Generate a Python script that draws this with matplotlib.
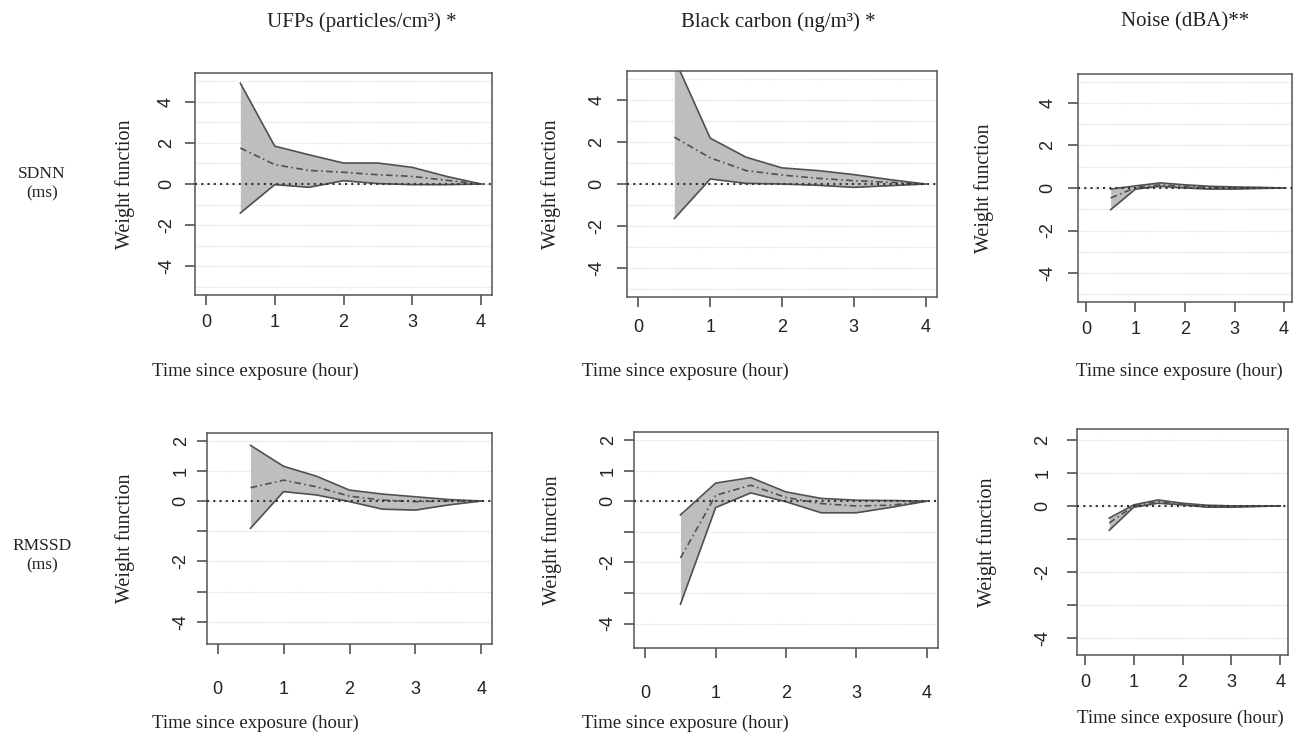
import matplotlib
matplotlib.use('Agg')
import matplotlib.pyplot as plt
import numpy as np

# lag times (hours)
lags = [0.5, 1.0, 1.5, 2.0, 2.5, 3.0, 3.5, 4.0]

# SDNN row
ufp_sdnn_mean = [1.75, 0.94, 0.66, 0.57, 0.45, 0.37, 0.18, 0.0]
ufp_sdnn_low = [-1.41, -0.03, -0.16, 0.16, 0.02, -0.03, -0.03, 0.0]
ufp_sdnn_up = [4.9, 1.84, 1.42, 1.02, 1.02, 0.81, 0.37, 0.0]

bc_sdnn_mean = [2.24, 1.25, 0.64, 0.43, 0.27, 0.16, 0.08, 0.0]
bc_sdnn_low = [-1.65, 0.24, 0.03, 0.0, -0.06, -0.16, -0.08, 0.0]
bc_sdnn_up = [6.0, 2.19, 1.28, 0.77, 0.64, 0.45, 0.21, 0.0]

noise_sdnn_mean = [-0.47, 0.02, 0.15, 0.08, 0.03, 0.0, 0.0, 0.0]
noise_sdnn_low = [-1.02, -0.05, 0.08, 0.0, -0.05, -0.05, -0.02, 0.0]
noise_sdnn_up = [-0.05, 0.1, 0.24, 0.15, 0.08, 0.05, 0.03, 0.0]

# RMSSD row
ufp_rmssd_mean = [0.44, 0.69, 0.47, 0.16, 0.03, -0.02, 0.0, 0.0]
ufp_rmssd_low = [-0.9, 0.31, 0.2, -0.02, -0.27, -0.3, -0.13, 0.0]
ufp_rmssd_up = [1.84, 1.15, 0.82, 0.36, 0.23, 0.14, 0.05, 0.0]

bc_rmssd_mean = [-1.86, 0.19, 0.52, 0.12, -0.08, -0.16, -0.13, 0.0]
bc_rmssd_low = [-3.37, -0.21, 0.27, -0.02, -0.38, -0.38, -0.2, 0.0]
bc_rmssd_up = [-0.45, 0.59, 0.77, 0.3, 0.09, 0.03, 0.02, 0.0]

noise_rmssd_mean = [-0.52, 0.0, 0.13, 0.06, -0.01, -0.02, -0.01, 0.0]
noise_rmssd_low = [-0.74, -0.04, 0.08, 0.03, -0.04, -0.04, -0.02, 0.0]
noise_rmssd_up = [-0.37, 0.03, 0.18, 0.08, 0.02, 0.0, 0.0, 0.0]

col_titles = ['UFPs (particles/cm³) *', 'Black carbon (ng/m³) *', 'Noise (dBA)**']
row_titles = ['SDNN\n(ms)', 'RMSSD\n(ms)']

W, H = 1294, 735
fig = plt.figure(figsize=(W / 100, H / 100), dpi=100)
fig.patch.set_facecolor('white')

serif = 'Liberation Serif'
sans = 'Liberation Sans'
txt = '#222222'


def px_axes(x0, y0, x1, y1):
    # pixel box (top-left origin) -> figure axes
    return fig.add_axes([x0 / W, 1 - y1 / H, (x1 - x0) / W, (y1 - y0) / H])


# pixel boxes and y limits
boxes = [
    [(195, 73, 492, 295), (627, 71, 937, 297), (1078, 74, 1292, 302)],
    [(207, 433, 492, 644), (634, 432, 938, 648), (1077, 429, 1288, 655)],
]
ylims = [
    [(-5.4, 5.4), (-5.4, 5.4), (-5.36, 5.36)],
    [(-4.73, 2.25), (-4.8, 2.26), (-4.52, 2.33)],
]
# tick label pads (pt), y-label x and x-label position (px)
xpads = [[6, 8, 6], [19, 19, 6]]
ypads = [[7, 8, 8], [5, 5, 11]]
ylab_x = [[125, 551, 984], [125, 552, 987]]
xlab_x = [[255, 685, 1179], [255, 685, 1180]]
xlab_y = [[371, 371, 371], [723, 723, 718]]

series = [
    [(ufp_sdnn_mean, ufp_sdnn_low, ufp_sdnn_up),
     (bc_sdnn_mean, bc_sdnn_low, bc_sdnn_up),
     (noise_sdnn_mean, noise_sdnn_low, noise_sdnn_up)],
    [(ufp_rmssd_mean, ufp_rmssd_low, ufp_rmssd_up),
     (bc_rmssd_mean, bc_rmssd_low, bc_rmssd_up),
     (noise_rmssd_mean, noise_rmssd_low, noise_rmssd_up)],
]

for r in range(2):
    for c in range(3):
        x0, y0, x1, y1 = boxes[r][c]
        ax = px_axes(x0, y0, x1, y1)
        mean, low, up = series[r][c]
        ax.set_xlim(-0.16, 4.16)
        ax.set_ylim(*ylims[r][c])

        if r == 0:
            grid_y = np.arange(-5, 6)
            yt = [-4, -2, 0, 2, 4]
            ytl = ['-4', '-2', '0', '2', '4']
        else:
            grid_y = np.arange(-4, 3)
            yt = [-4, -3, -2, -1, 0, 1, 2]
            ytl = ['-4', '', '-2', '', '0', '1', '2']
        for gy in grid_y:
            ax.axhline(gy, color='#d3d3d3', lw=0.8, ls=(0, (1, 1.5)), zorder=0)

        ax.fill_between(lags, low, up, color='#bebebe', lw=0, zorder=1)
        ax.plot(lags, up, color='#505050', lw=1.2, zorder=2)
        ax.plot(lags, low, color='#505050', lw=1.2, zorder=2)
        ax.plot(lags, mean, color='#505050', lw=1.2, ls=(0, (4, 2, 1, 2)), zorder=3)
        ax.axhline(0, color='#333333', lw=1.5, ls=(0, (1, 2)), zorder=4)

        ax.set_xticks([0, 1, 2, 3, 4])
        ax.set_xticklabels(['0', '1', '2', '3', '4'], fontfamily=sans, fontsize=13, color=txt)
        ax.set_yticks(yt)
        ax.set_yticklabels(ytl, fontfamily=sans, fontsize=13, color=txt,
                           rotation=90, va='center')
        ax.tick_params(direction='out', length=7.5, width=1.1, color='#444444')
        ax.tick_params(axis='x', pad=xpads[r][c])
        ax.tick_params(axis='y', pad=ypads[r][c])
        for s in ax.spines.values():
            s.set_color('#555555')
            s.set_linewidth(1.1)

        fig.text(ylab_x[r][c] / W, 1 - (y0 + y1) / 2 / H, 'Weight function', rotation=90,
                 ha='center', va='center', fontfamily=serif, fontsize=14.5, color=txt)
        fig.text(xlab_x[r][c] / W, 1 - xlab_y[r][c] / H, 'Time since exposure (hour)',
                 ha='center', va='center', fontfamily=serif, fontsize=13.5, color=txt)

# column and row titles
for x, t in zip([362, 778, 1185], col_titles):
    fig.text(x / W, 1 - 22 / H, t, ha='center', va='center', fontfamily=serif,
             fontsize=15, color=txt)
for y, t in zip([184, 556], row_titles):
    fig.text(42 / W, 1 - y / H, t, ha='center', va='center', fontfamily=serif,
             fontsize=12.5, color=txt, linespacing=1.25)

fig.savefig('out.png', dpi=100, facecolor='white')
